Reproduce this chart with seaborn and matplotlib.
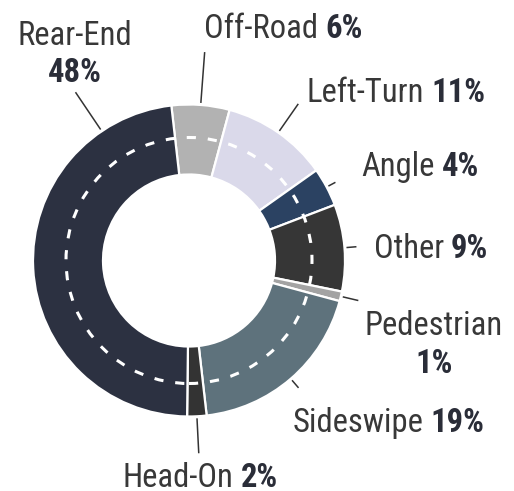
import matplotlib
matplotlib.use('Agg')
import matplotlib.pyplot as plt
import seaborn as sns
import numpy as np
from matplotlib import font_manager
from matplotlib.patches import Circle

# ---- data ----
categories = ['Off-Road', 'Left-Turn', 'Angle', 'Other', 'Pedestrian', 'Sideswipe', 'Head-On', 'Rear-End']
shares = [6, 11, 4, 9, 1, 19, 2, 48]
pct_labels = ['6%', '11%', '4%', '9%', '1%', '19%', '2%', '48%']
colors = ['#b2b2b2', '#dad9ea', '#2b4262', '#363636', '#a3a3a3', '#5e727c', '#333333', '#2c3141']

# ---- layout (image pixel coords, y from top) ----
W, H = 514, 491
CX, CY = 189, 260.5
R_OUT, R_IN, R_DASH = 156, 86, 123
START = 96.5
# name-line centre x, baseline y, optional second-line baseline
label_pos = {
    'Off-Road': (283, 38, None),
    'Left-Turn': (396, 102, None),
    'Angle': (420, 176, None),
    'Other': (431, 258, None),
    'Pedestrian': (434, 335, 373),
    'Sideswipe': (388.5, 432, None),
    'Head-On': (200.5, 487, None),
    'Rear-End': (75, 45, 82),
}
leader_end = {'Off-Road': 209, 'Left-Turn': 191, 'Angle': 166, 'Other': 168,
              'Pedestrian': 174, 'Sideswipe': 168, 'Head-On': 193, 'Rear-End': 203}
leader_angle_override = {'Rear-End': 124}

sns.set_theme(style='white')
avail = {f.name for f in font_manager.fontManager.ttflist}
family = 'Roboto Condensed' if 'Roboto Condensed' in avail else 'Roboto'
plt.rcParams['font.family'] = [family, 'DejaVu Sans']

fig = plt.figure(figsize=(W / 100, H / 100), dpi=100)
ax = fig.add_axes([0, 0, 1, 1])

center = (CX, H - CY)
wedges, _ = ax.pie(shares, colors=colors, startangle=START, counterclock=False,
                   radius=R_OUT, center=center,
                   wedgeprops=dict(width=R_OUT - R_IN, edgecolor='white', linewidth=1.6))
ax.add_patch(Circle(center, R_DASH, fill=False, edgecolor='white', linewidth=2.2,
                    linestyle=(0, (3.0, 3.9)), zorder=5))
ax.set_xlim(0, W)
ax.set_ylim(0, H)
ax.set_aspect('equal')
ax.axis('off')

# leader lines
for w, cat in zip(wedges, categories):
    ang = leader_angle_override.get(cat, (w.theta1 + w.theta2) / 2)
    a = np.deg2rad(ang)
    r0, r1 = 158, leader_end[cat]
    ax.plot([center[0] + r0 * np.cos(a), center[0] + r1 * np.cos(a)],
            [center[1] + r0 * np.sin(a), center[1] + r1 * np.sin(a)],
            color='#333333', lw=1.1, solid_capstyle='butt', zorder=6)

FS = 23.5
name_col, pct_col = '#383838', '#2a2d38'
fig.canvas.draw()
rend = fig.canvas.get_renderer()
for cat, pct in zip(categories, pct_labels):
    xc, yb, yb2 = label_pos[cat]
    if yb2 is not None:
        ax.text(xc, H - yb, cat, ha='center', va='baseline', fontsize=FS, color=name_col)
        ax.text(xc, H - yb2, pct, ha='center', va='baseline', fontsize=FS, color=pct_col, weight='bold')
    else:
        t1 = ax.text(0, H - yb, cat, ha='left', va='baseline', fontsize=FS, color=name_col)
        t2 = ax.text(0, H - yb, pct, ha='left', va='baseline', fontsize=FS, color=pct_col, weight='bold')
        w1 = t1.get_window_extent(rend).width
        w2 = t2.get_window_extent(rend).width
        gap = 0.22 * FS / 0.72
        x0 = xc - (w1 + gap + w2) / 2
        t1.set_x(x0)
        t2.set_x(x0 + w1 + gap)

fig.savefig('out.png', dpi=100)
